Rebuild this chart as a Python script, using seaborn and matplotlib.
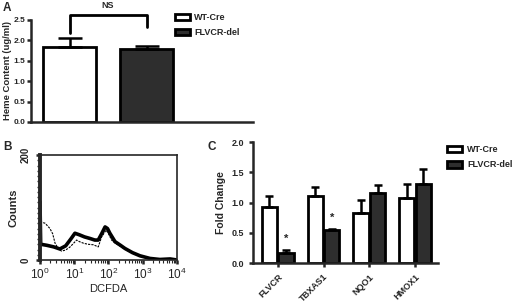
import numpy as np
import pandas as pd
import matplotlib
matplotlib.use('Agg')
import matplotlib.pyplot as plt
from matplotlib.patches import Patch
from matplotlib.ticker import MultipleLocator, LogLocator
import seaborn as sns

# ---- data ----
genotypes = ['WT-Cre', 'FLVCR-del']
colors = ['white', '#2e2e2e']

# panel A: heme content
heme_mean = [1.85, 1.78]
heme_err = [0.20, 0.09]

# panel B: DCFDA histogram (log10 of intensity, counts)
wt_logx = [0.0, 0.02, 0.2, 0.4, 0.58, 0.75, 0.9, 1.02, 1.15, 1.3, 1.46, 1.6, 1.7,
           1.8, 1.9, 1.97, 2.04, 2.19, 2.35, 2.48, 2.7, 2.92, 3.21, 3.5, 3.8, 3.9, 4.0]
wt_counts = [111, 30, 28, 25, 21, 27, 40, 51, 48, 44, 41, 38, 38,
             50, 63, 60, 51, 35, 28, 22, 14, 8, 3, 1, 2, 1, 0]
del_logx = [0.0, 0.15, 0.29, 0.37, 0.44, 0.55, 0.63, 0.75, 0.88, 1.07, 1.15, 1.27, 1.4,
            1.56, 1.7, 1.8, 1.93, 2.0, 2.09, 2.2, 2.35, 2.5, 2.7, 2.92, 3.2, 3.5, 4.0]
del_counts = [73, 70, 60, 50, 32, 20, 17, 19, 25, 38, 35, 32, 30,
              29, 25, 44, 57, 50, 38, 32, 26, 20, 13, 7, 3, 1, 0]

# panel C: qPCR fold change
genes = ['FLVCR', 'TBXAS1', 'NQO1', 'HMOX1']
wt_fold = [0.92, 1.11, 0.83, 1.07]
wt_sem = [0.19, 0.14, 0.21, 0.24]
del_fold = [0.17, 0.55, 1.15, 1.30]
del_sem = [0.05, 0.02, 0.14, 0.26]
signif = ['*', '*', '', '']

# ---- style ----
sns.set_style('ticks')
plt.rcParams['font.family'] = ['Liberation Sans', 'DejaVu Sans']
plt.rcParams['font.weight'] = 'bold'
plt.rcParams['axes.linewidth'] = 1.8
plt.rcParams['xtick.major.width'] = 1.8
plt.rcParams['ytick.major.width'] = 1.8
plt.rcParams['xtick.major.size'] = 3
plt.rcParams['ytick.major.size'] = 3

fig = plt.figure(figsize=(5.2, 3.03), dpi=100)
axA = fig.add_axes([0.0596, 0.5974, 0.427, 0.3366])
axB = fig.add_axes([0.0769, 0.1419, 0.2635, 0.3465])
axC = fig.add_axes([0.4865, 0.132, 0.3558, 0.3993])

def onesided_err(ax, bars, errs, capsize):
    xs = [b.get_x() + b.get_width() / 2 for b in bars]
    hs = [b.get_height() for b in bars]
    ax.errorbar(xs, hs, yerr=[np.zeros(len(errs)), errs], fmt='none', ecolor='black',
                elinewidth=1.8, capsize=capsize, capthick=1.8, zorder=1)

# ---- panel A ----
dfA = pd.DataFrame({'genotype': genotypes, 'heme': heme_mean})
sns.barplot(data=dfA, x='genotype', y='heme', hue='genotype', palette=colors,
            width=0.69, edgecolor='black', linewidth=2, errorbar=None, legend=False, ax=axA)
onesided_err(axA, axA.patches[:2], heme_err, 8.5)
axA.set_xlim(-0.5, 2.38)
axA.set_ylim(0, 2.5)
axA.set_yticks([0, 0.5, 1.0, 1.5, 2.0, 2.5])
axA.set_yticklabels(['0.0', '0.5', '1.0', '1.5', '2.0', '2.5'], fontsize=6)
axA.tick_params(axis='y', pad=1)
axA.set_xticks([])
axA.set_xlabel('')
axA.set_ylabel('Heme Content (ug/ml)', fontsize=6.8, fontweight='bold', labelpad=1)
sns.despine(ax=axA)
top = max(m + e for m, e in zip(heme_mean, heme_err)) + 0.57
axA.plot([0, 0, 1, 1], [heme_mean[0] + heme_err[0] + 0.13, top, top, top - 0.29],
         color='black', lw=2, clip_on=False)
axA.text(0.5, top + 0.12, 'NS', ha='center', va='bottom', fontsize=6.5, fontweight='bold')
hA = [Patch(facecolor=c, edgecolor='black', linewidth=2, label=g) for c, g in zip(colors, genotypes)]
axA.legend(handles=hA, loc='upper left', bbox_to_anchor=(0.65, 1.07), frameon=False,
           handlelength=1.6, handleheight=0.7, labelspacing=0.7,
           handletextpad=0.5, borderpad=0, borderaxespad=0,
           prop={'weight': 'bold', 'size': 6.5})

# ---- panel B ----
sns.lineplot(x=np.power(10.0, wt_logx), y=wt_counts, color='black', lw=2.6,
             sort=False, estimator=None, ax=axB)
sns.lineplot(x=np.power(10.0, del_logx), y=del_counts, color='black', lw=0.8,
             linestyle=(0, (2, 1)), sort=False, estimator=None, ax=axB)
axB.set_xscale('log')
axB.set_xlim(1, 1e4)
axB.xaxis.set_major_locator(LogLocator(base=10, numticks=10))
axB.xaxis.set_minor_locator(LogLocator(base=10, subs=np.arange(2, 10), numticks=10))
axB.tick_params(axis='x', which='minor', length=2, width=0.8)
axB.set_ylim(0, 200)
axB.set_yticks([0, 200])
axB.set_yticklabels(['0', '200'], rotation=90, va='center', fontsize=7, fontweight='bold')
axB.yaxis.set_minor_locator(MultipleLocator(10))
axB.tick_params(axis='y', which='minor', length=2, width=1)
axB.tick_params(axis='x', which='major', labelsize=8.5, pad=2)
for lab in axB.get_xticklabels():
    lab.set_fontweight('normal')
axB.spines['left'].set_linewidth(2.8)
for s in ['top', 'right', 'bottom']:
    axB.spines[s].set_linewidth(1.2)
axB.set_xlabel('DCFDA', fontsize=8, fontweight='normal', labelpad=1)
axB.set_ylabel('Counts', fontsize=8, fontweight='bold', labelpad=2)

# ---- panel C ----
dfC = pd.DataFrame({
    'gene': genes * 2,
    'genotype': [genotypes[0]] * len(genes) + [genotypes[1]] * len(genes),
    'fold': wt_fold + del_fold,
})
sns.barplot(data=dfC, x='gene', y='fold', hue='genotype', order=genes, hue_order=genotypes,
            palette=colors, width=0.72, gap=0.08, edgecolor='black', linewidth=2,
            errorbar=None, legend=False, ax=axC)
bars = sorted(axC.patches[:8], key=lambda b: b.get_x())
wt_bars = bars[0::2]
del_bars = bars[1::2]
onesided_err(axC, wt_bars, wt_sem, 3.2)
onesided_err(axC, del_bars, del_sem, 3.2)
for b, e, s in zip(del_bars, del_sem, signif):
    if s:
        axC.text(b.get_x() + b.get_width() / 2, b.get_height() + e + 0.1, s,
                 ha='center', va='bottom', fontsize=8, fontweight='bold')
axC.set_xlim(-0.54, 3.5)
axC.set_ylim(0, 2.0)
axC.set_yticks([0, 0.5, 1.0, 1.5, 2.0])
axC.set_yticklabels(['0.0', '0.5', '1.0', '1.5', '2.0'], fontsize=6.5)
axC.set_xticks(range(len(genes)))
axC.set_xticklabels(genes, rotation=45, ha='right', rotation_mode='anchor', fontsize=6.5)
axC.set_xlabel('')
axC.set_ylabel('Fold Change', fontsize=7.5, fontweight='bold', labelpad=4)
sns.despine(ax=axC)
hC = [Patch(facecolor=c, edgecolor='black', linewidth=2, label=g) for c, g in zip(colors, genotypes)]
axC.legend(handles=hC, loc='upper left', bbox_to_anchor=(1.05, 0.975), frameon=False,
           handlelength=1.6, handleheight=0.75, labelspacing=0.7,
           handletextpad=0.6, borderpad=0, borderaxespad=0,
           prop={'weight': 'bold', 'size': 6.5})

# ---- panel letters ----
fig.text(0.006, 0.995, 'A', fontsize=8.5, fontweight='bold', va='top')
fig.text(0.006, 0.535, 'B', fontsize=8.5, fontweight='bold', va='top')
fig.text(0.40, 0.535, 'C', fontsize=8.5, fontweight='bold', va='top')

fig.savefig('out.png', dpi=100)
